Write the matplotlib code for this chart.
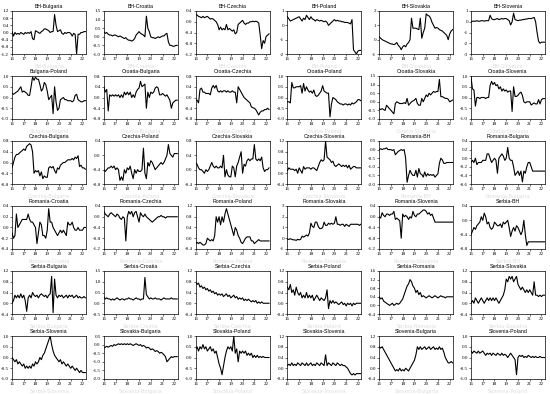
import numpy as np
import matplotlib
matplotlib.use("Agg")
import matplotlib.pyplot as plt

# time axis: 2016.0 .. 2022.25, step of 1.5 months
start_year = 2016.0
step = 1 / 8
n_points = 51

titles = [
    "BH-Bulgaria", "BH-Croatia", "BH-Czechia", "BH-Poland", "BH-Slovakia", "BH-Slovenia",
    "Bulgaria-Poland", "Croatia-Bulgaria", "Croatia-Czechia", "Croatia-Poland", "Croatia-Slovakia", "Croatia-Slovenia",
    "Czechia-Bulgaria", "Czechia-Poland", "Czechia-Slovakia", "Czechia-Slovenia", "Romania-BH", "Romania-Bulgaria",
    "Romania-Croatia", "Romania-Czechia", "Romania-Poland", "Romania-Slovakia", "Romania-Slovenia", "Serbia-BH",
    "Serbia-Bulgaria", "Serbia-Croatia", "Serbia-Czechia", "Serbia-Poland", "Serbia-Romania", "Serbia-Slovakia",
    "Serbia-Slovenia", "Slovakia-Bulgaria", "Slovakia-Poland", "Slovakia-Slovenia", "Slovenia-Bulgaria", "Slovenia-Poland",
]

bh_bulgaria = [0.05, -0.2, 0.0, -0.1, -0.05, -0.1, 0.0, -0.05, -0.1, 0.0, -0.05, 0.0, -0.05, 0.05, -0.35, -0.4,
               0.1, 0.05, 0.0, -0.05, 0.05, 0.1, 0.2, 0.2, 0.15, 0.1, 0.0, 0.05, 0.05, 1.0, 0.4, 0.05,
               0.1, 0.15, -0.05, -0.1, 0.0, -0.05, 0.0, 0.0, -0.05, -0.2, -0.05, -0.1, -1.2, -0.1, -0.1, 0.0,
               0.0, 0.05, 0.05]
bh_croatia = [0.3, 0.2, 0.25, 0.15, 0.1, 0.1, 0.05, 0.1, 0.1, 0.05, 0.0, 0.05, 0.0, -0.05, -0.1, -0.05,
              -0.15, -0.2, -0.2, -0.25, -0.2, -0.1, 0.1, 0.2, 0.3, 0.2, 0.15, 0.1, 0.0, 1.2, 0.5, 0.3,
              0.0, -0.05, -0.05, -0.1, -0.05, 0.0, -0.05, 0.0, 0.05, 0.05, 0.15, 0.2, -0.3, -0.5, -0.5, -0.55,
              -0.55, -0.5, -0.5]
bh_czechia = [0.3, 0.25, 0.2, 0.18, 0.15, 0.2, 0.15, 0.18, 0.2, 0.15, 0.1, 0.12, 0.1, 0.05, 0.0, -0.1,
              -0.3, -0.2, -0.3, -0.25, -0.3, -0.1, -0.3, -0.25, -0.3, -0.35, -0.3, -0.45, -0.4, -0.1, -0.05, 0.0,
              0.05, -0.05, -0.1, -0.05, -0.05, 0.0, 0.0, 0.02, 0.0, 0.02, 0.0, -0.05, -0.5, -1.0, -0.7, -0.8,
              -0.55, -0.5, -0.45]
bh_poland = [0.6, 0.45, 0.3, 0.35, 0.4, 0.45, 0.5, 0.55, 0.6, 0.45, 0.3, 0.5, 0.4, 0.7, 0.55, 0.4,
             0.6, 0.45, 0.4, 0.3, 0.4, 0.35, 0.3, 0.35, 0.3, 0.25, 0.3, 0.2, 0.0, 0.1, 0.2, 0.3,
             0.4, 0.3, 0.35, 0.3, 0.3, 0.25, 0.25, 0.2, 0.2, 0.2, 0.15, 0.1, 0.4, -1.7, -1.85, -2.0,
             -1.8, -1.75, -1.75]
bh_slovakia = [0.2, 0.1, 0.0, -0.05, -0.1, -0.15, -0.2, -0.25, -0.3, -0.3, -0.35, -0.3, -0.2, -0.4, -0.5, -0.7,
               -0.5, -0.4, -0.5, -0.3, -0.2, 0.0, 1.5, 0.8, 0.8, 0.8, 0.75, 0.7, 1.5, 0.1, 0.5, 0.8,
               1.8, 1.7, 1.65, 1.5, 1.2, 1.0, 0.8, 0.85, 0.8, 0.7, 0.65, 0.6, 0.5, 0.4, 0.3, 0.0,
               0.4, 0.6, 0.7]
bh_slovenia = [0.0, 0.05, 0.05, 0.05, 0.1, 0.05, 0.05, 0.1, 0.1, 0.05, 0.1, 0.1, 0.1, 0.6, 0.3, 0.2,
               0.2, 0.25, 0.3, 0.2, 0.25, 0.3, 0.25, 0.3, 0.3, 0.2, 0.1, -0.3, 0.0, 0.8, 0.2, 0.15,
               0.1, 0.15, 0.15, 0.2, 0.2, 0.25, 0.25, 0.3, 0.3, 0.3, 0.35, 0.4, 0.0, -1.0, -1.8, -2.0,
               -1.9, -1.9, -1.9]
bulgaria_poland = [0.2, 0.15, 0.2, 0.25, 0.3, 0.4, 0.5, 0.25, 0.3, 0.25, 0.2, 0.1, 0.1, 0.5, 0.95, 0.8,
                   0.95, 0.85, 0.85, 0.6, 0.3, 0.4, 0.7, 0.6, 0.3, -0.1, 0.0, 0.1, -0.75, 0.5, -0.2, -0.6,
                   -0.5, -0.1, -0.05, 0.0, -0.1, -0.1, -0.15, -0.15, -0.15, -0.2, -0.15, 0.1, 0.15, -0.1, -0.15, -0.2,
                   -0.2, -0.15, -0.15]
croatia_bulgaria = [0.4, 0.2, 0.3, -0.5, 0.1, 0.05, 0.1, 0.05, 0.1, 0.05, 0.1, 0.0, 0.1, 0.0, 0.2, 0.1,
                    0.2, 0.1, 0.2, 0.0, 0.1, 0.0, 0.2, 0.3, 0.35, 0.6, 0.4, 0.45, 0.5, -0.4, 0.2, 0.0,
                    0.2, 0.15, 0.2, 0.35, 0.4, 0.35, 0.1, 0.1, 0.15, 0.1, 0.05, 0.1, 0.0, -0.1, -0.4, -0.2,
                    -0.15, -0.1, -0.1]
croatia_czechia = [-0.1, -0.1, -0.2, 0.3, 0.35, 0.2, 0.2, 0.15, 0.15, 0.15, 0.1, 0.35, 0.45, 0.35, 0.45, 0.25,
                   0.2, 0.25, 0.2, 0.25, 0.25, 0.2, 0.25, 0.2, 0.2, 0.25, 0.2, 0.2, -0.2, 0.4, 0.3, 0.2,
                   0.1, 0.0, -0.05, -0.1, -0.15, -0.2, -0.35, -0.38, -0.4, -0.45, -0.55, -0.65, -0.55, -0.5, -0.5, -0.45,
                   -0.45, -0.4, -0.45]
croatia_poland = [-0.2, -0.2, -0.25, 0.7, 0.45, 0.45, 0.5, 0.5, 0.5, 0.55, 0.2, 0.65, 0.3, 0.5, 0.35, 0.25,
                  0.3, 0.2, 0.35, 0.1, 0.05, 0.1, 0.2, 0.3, 0.55, 0.3, 0.25, 0.2, 0.2, -0.9, -0.3, 0.0,
                  -0.05, -0.1, -0.2, -0.25, -0.3, -0.3, -0.35, -0.3, -0.3, -0.35, -0.3, -0.35, -0.25, -0.3, -0.25, -0.2,
                  -0.1, -0.1, -0.15]
croatia_slovakia = [-0.4, -0.45, -0.4, -0.45, -0.5, -0.2, -0.3, -0.4, -0.5, -0.6, -0.7, -0.1, 0.0, -0.05, -0.1, -0.1,
                    -0.1, -0.05, -0.1, 0.2, -0.2, -0.1, 0.0, 0.05, 0.1, 0.2, -0.1, -0.2, -0.2, 0.2, 0.0, 0.2,
                    0.4, 0.3, 0.5, 0.4, 0.5, 0.6, 0.55, 0.6, 0.6, 1.3, 0.3, 0.3, 0.25, 0.2, 0.2, 0.15,
                    0.0, 0.05, 0.1]
croatia_slovenia = [0.95, 0.4, 0.35, -0.4, 0.0, 0.0, -0.05, 0.0, 0.0, 0.0, -0.05, 0.0, 0.0, 0.55, 0.75, 0.6,
                    0.7, 0.55, 0.6, 0.4, 0.5, 0.3, 0.4, 0.3, 0.35, 0.25, 0.3, 0.3, -0.65, 0.5, 0.05, 0.05,
                    0.1, 0.2, 0.25, 0.1, -0.2, -0.25, -0.2, -0.2, -0.2, -0.35, -0.3, -0.25, -0.3, -0.3, -0.1, -0.3,
                    -0.1, -0.05, -0.05]
czechia_bulgaria = [-0.2, 0.0, 0.2, 0.3, 0.3, 0.35, 0.4, 0.45, 0.5, 0.45, 0.6, 0.65, 0.7, 0.65, 0.4, -0.4,
                    -0.3, -0.35, -0.3, -0.5, -0.35, -0.6, -0.5, -0.55, -0.55, -0.2, -0.15, -0.2, -0.15, -0.3, -0.4, -0.2,
                    -0.25, -0.1, -0.05, 0.0, 0.0, 0.05, 0.1, 0.1, 0.1, 0.15, 0.1, 0.2, 0.15, 0.25, -0.15, -0.1,
                    -0.2, -0.2, -0.25]
czechia_poland = [-0.4, -0.45, -0.4, -0.35, -0.35, -0.3, -0.35, -0.3, -0.4, -0.35, -0.4, -0.7, -0.6, -0.7, -0.4, -0.5,
                  -0.35, -0.4, -0.3, -0.5, -0.65, -0.4, -0.5, -0.4, -0.45, -0.45, -0.4, 0.2, -0.5, -0.65, -0.2, -0.3,
                  -0.15, -0.2, -0.3, -0.4, -0.35, -0.3, -0.25, -0.2, -0.25, -0.2, -0.1, 0.0, 0.3, 0.05, 0.0, -0.05,
                  0.05, 0.05, 0.05]
czechia_slovakia = [0.2, 0.15, 0.05, 0.0, 0.0, -0.05, -0.1, 0.0, -0.05, 0.0, 0.1, 0.2, 0.1, 0.05, 0.1, 0.05,
                    0.05, 0.1, 0.05, 0.4, -0.2, 0.0, -0.15, -0.2, -0.2, 0.1, 0.05, -0.2, 0.1, 0.2, 0.35, 0.5,
                    -0.1, 0.15, 0.1, 0.25, 0.3, 0.25, 0.3, 0.3, 0.7, 0.3, 0.25, 0.3, 0.25, 0.35, 0.05, -0.05,
                    0.0, 0.0, 0.05]
czechia_slovenia = [0.1, 0.2, 0.15, 0.15, 0.15, 0.1, 0.15, 0.0, 0.2, 0.1, 0.0, 0.25, 0.15, 0.2, 0.2, 0.2,
                    0.15, 0.2, 0.2, 0.15, 0.1, 0.25, 0.4, 0.5, 0.45, 0.5, 1.2, 0.6, 0.55, 0.5, 0.4, 0.45,
                    0.3, 0.25, 0.3, 0.35, 0.3, 0.25, 0.3, 0.25, 0.3, 0.2, 0.3, 0.15, 0.2, 0.25, 0.25, 0.2,
                    0.2, 0.2, 0.2]
romania_bh = [0.0, 0.05, 0.0, 0.05, 0.05, 0.1, 0.0, 0.0, 0.0, -0.05, 0.0, -0.3, -0.2, -0.1, -0.05, 0.0,
              -0.05, 0.0, -0.5, -1.9, -1.5, -1.2, -1.4, -1.5, -1.5, -1.2, -1.6, -1.1, -1.4, -1.45, -1.6, -1.3,
              -1.55, -1.4, -1.5, -1.45, -1.5, -1.45, -1.6, -1.5, -1.4, -0.8, -0.5, -0.6, -0.8, -0.8, -0.75, -0.75,
              -0.75, -0.75, -0.75]
romania_bulgaria = [-0.1, -0.05, -0.1, 0.0, -0.15, -0.1, -0.1, -0.1, -0.05, -0.05, -0.05, 0.1, 0.1, 0.0, -0.1, -0.05,
                    0.0, -0.05, -0.35, 0.0, 0.05, 0.1, 0.05, -0.05, 0.0, 0.25, 0.0, -0.05, -0.05, -0.2, -0.4, -0.35,
                    -0.3, -0.4, -0.3, -0.55, -0.3, -0.35, -0.2, -0.1, -0.1, -0.2, -0.3, -0.3, -0.3, -0.3, -0.3, -0.3,
                    -0.3, -0.3, -0.3]
romania_croatia = [-0.1, -0.2, -0.15, 0.25, 0.0, 0.05, 0.1, 0.15, 0.15, 0.15, 0.15, 0.25, 0.15, 0.1, 0.1, 0.05,
                   0.0, -0.3, -0.1, 0.1, 0.05, -0.15, -0.15, -0.2, -0.05, 0.35, 0.1, 0.1, 0.0, -0.05, -0.1, -0.15,
                   -0.1, -0.05, -0.1, -0.05, -0.1, -0.15, 0.1, 0.05, 0.05, 0.1, 0.0, -0.05, -0.05, 0.0, -0.05, -0.05,
                   -0.05, 0.0, 0.0]
romania_czechia = [0.2, 0.1, 0.05, 0.0, 0.1, 0.15, 0.1, 0.05, 0.0, 0.1, 0.05, -0.05, -0.1, 0.0, -0.05, -0.9,
                   0.0, 0.2, 0.1, 0.2, 0.0, 0.15, 0.2, 0.0, -0.2, 0.15, 0.05, 0.0, 0.1, 0.0, -0.05, -0.1,
                   -0.15, -0.2, -0.15, -0.1, -0.05, 0.0, 0.0, 0.05, 0.0, 0.0, -0.05, 0.0, 0.0, 0.0, 0.0, 0.0,
                   0.0, 0.0, 0.0]
romania_poland = [-0.2, -0.15, -0.2, -0.15, -0.2, -0.25, -0.25, -0.2, 0.0, -0.05, -0.1, -0.05, -0.1, 0.1, 0.8, 0.6,
                  0.8, 0.5, 0.8, 0.6, 0.9, 1.1, 0.9, 0.7, 0.5, 0.3, 0.1, 0.4, 0.3, 0.1, 0.0, -0.15,
                  -0.2, -0.1, 0.0, 0.05, 0.05, 0.05, -0.1, -0.1, -0.2, -0.15, -0.1, -0.05, -0.1, -0.1, -0.1, -0.1,
                  -0.1, -0.1, -0.1]
romania_slovakia = [-0.1, -0.1, -0.05, -0.1, -0.15, -0.15, -0.2, -0.1, -0.15, -0.1, 0.2, 0.1, 0.2, 0.3, 0.2, 0.5,
                    1.4, 1.1, 1.0, 1.5, 1.5, 1.1, 0.9, 0.9, 1.0, 1.5, 1.2, 1.2, 1.4, 1.3, 1.4, 1.3,
                    1.4, 2.0, 1.3, 1.3, 1.2, 1.3, 1.3, 1.1, 1.3, 1.2, 1.1, 1.3, 1.3, 1.3, 1.3, 1.3,
                    1.3, 1.2, 1.3]
romania_slovenia = [0.0, -0.05, 0.15, 0.05, 0.0, 0.1, 0.1, 0.05, 0.1, 0.1, 0.2, -0.1, -0.05, -0.1, -0.15, -0.8,
                    0.1, 0.0, 0.05, 0.0, -0.1, 0.0, -0.05, 0.2, 0.05, 0.0, 0.1, 0.1, 0.15, 0.2, 0.25, 0.25,
                    0.2, 0.1, 0.15, 0.05, 0.1, -0.05, -0.2, -0.2, -0.2, -0.2, -0.2, -0.2, -0.2, -0.2, -0.2, -0.2,
                    -0.2, -0.2, -0.2]
serbia_bh = [-0.4, -0.3, -0.2, -0.25, -0.15, -0.1, -0.05, 0.1, 0.0, 0.2, 0.1, -0.1, -0.05, -0.2, -0.25, -0.2,
             -0.05, -0.1, -0.15, -0.15, -0.1, -0.2, -0.05, -0.1, -0.05, 0.0, -0.2, -0.45, -0.3, -0.2, -0.3, -0.15,
             -0.2, -0.3, -0.4, -0.3, 0.0, -0.4, -0.7, -0.6, -0.6, -0.6, -0.6, -0.6, -0.6, -0.6, -0.6, -0.6,
             -0.6, -0.6, -0.6]
serbia_bulgaria = [0.0, 0.1, 0.3, 0.2, 0.3, 0.2, 0.35, 0.2, 0.3, 0.1, -0.3, 0.2, 0.3, 0.2, 0.4, 0.3,
                   0.25, 0.3, 0.2, 0.3, 0.35, 0.3, 0.25, 0.3, 0.2, 0.3, 0.35, 1.0, -0.35, 0.9, 0.3, 0.2,
                   0.3, 0.25, 0.3, 0.2, 0.25, 0.3, 0.2, 0.3, 0.25, 0.3, 0.2, 0.25, 0.3, 0.2, 0.25, 0.2,
                   0.2, 0.25, 0.2]
serbia_croatia = [0.3, 0.2, 0.25, 0.2, 0.2, 0.15, 0.2, 0.15, 0.2, 0.25, 0.2, 0.15, 0.2, 0.2, 0.15, 0.2,
                  0.2, 0.25, 0.2, 0.2, 0.15, 0.2, 0.25, 0.2, 0.2, 0.15, 0.2, 0.2, 1.2, 0.4, 0.3, 0.2,
                  0.25, 0.2, 0.2, 0.25, 0.2, 0.2, 0.2, 0.15, 0.2, 0.25, 0.2, 0.2, 0.2, 0.2, 0.25, 0.2,
                  0.2, 0.2, 0.2]
serbia_czechia = [0.8, 0.7, 0.75, 0.6, 0.65, 0.55, 0.6, 0.5, 0.55, 0.45, 0.5, 0.4, 0.45, 0.35, 0.4, 0.3,
                  0.35, 0.3, 0.35, 0.25, 0.3, 0.35, 0.25, 0.3, 0.2, 0.25, 0.3, 0.2, 0.25, 0.15, 0.2, 0.15,
                  0.2, 0.1, 0.15, 0.1, 0.15, 0.1, 0.05, 0.1, 0.05, 0.1, 0.0, 0.05, 0.0, 0.05, 0.0, 0.0,
                  0.0, 0.0, 0.0]
serbia_poland = [0.6, 0.5, 0.7, 0.4, 0.5, 0.3, 0.6, 0.4, 0.3, 0.4, 0.2, 0.3, 0.2, 0.4, 0.2, 0.3,
                 0.2, 0.3, 0.1, 0.2, 0.3, 0.2, 0.1, 0.2, 0.15, 0.1, 0.2, 0.5, -0.2, 0.1, 0.0, 0.1,
                 0.0, 0.05, 0.0, -0.05, 0.0, 0.05, -0.05, 0.0, -0.1, 0.0, -0.05, 0.0, -0.1, 0.0, -0.05, 0.0,
                 0.0, 0.0, 0.0]
serbia_romania = [0.4, 0.3, 0.35, 0.2, 0.15, 0.1, 0.05, 0.0, 0.05, 0.1, 0.0, 0.05, 0.1, 0.05, 0.1, 0.2,
                  0.3, 0.5, 0.7, 0.9, 1.0, 1.2, 1.1, 0.9, 0.8, 0.6, 0.7, 0.5, 0.6, 0.4, 0.45, 0.4,
                  0.35, 0.4, 0.45, 0.4, 0.35, 0.4, 0.45, 0.4, 0.35, 0.4, 0.45, 0.4, 0.4, 0.35, 0.4, 0.4,
                  0.4, 0.4, 0.4]
serbia_slovakia = [0.0, 0.1, 0.0, 0.2, 0.1, 0.0, 0.1, 0.2, 0.1, 0.0, 0.1, 0.2, 0.1, 0.2, 0.1, 0.2,
                   0.1, 0.2, 0.1, 0.0, 0.1, 0.2, 0.3, 0.5, 0.9, 0.8, 1.0, 0.9, 1.0, 0.8, 0.9, 1.0,
                   0.7, 0.6, 0.5, 0.6, 0.5, 0.4, 0.5, 0.4, 0.5, 0.4, 0.3, 0.8, 0.3, 0.3, 0.25, 0.3,
                   0.25, 0.3, 0.3]
serbia_slovenia = [0.0, -0.1, -0.2, -0.1, -0.3, -0.2, -0.3, -0.4, -0.3, -0.5, -0.4, -0.5, -0.4, -0.5, -0.3, -0.4,
                   -0.2, -0.3, -0.2, 0.0, -0.1, 0.1, 0.2, 0.4, 0.6, 0.8, 1.0, 0.6, 0.3, 0.1, 0.0, -0.1,
                   -0.2, -0.1, -0.3, -0.2, -0.3, -0.4, -0.3, -0.4, -0.5, -0.4, -0.5, -0.6, -0.5, -0.6, -0.7, -0.6,
                   -0.7, -0.7, -0.7]
slovakia_bulgaria = [-0.2, -0.15, -0.1, -0.15, -0.1, -0.05, -0.1, 0.0, -0.05, 0.0, 0.05, 0.0, 0.05, 0.0, 0.05, 0.0,
                     0.05, 0.0, 0.05, 0.0, -0.05, 0.0, 0.05, 0.0, -0.05, 0.0, -0.1, -0.05, -0.1, -0.2, -0.15, -0.2,
                     -0.3, -0.25, -0.3, -0.4, -0.35, -0.4, -0.5, -0.45, -0.5, -0.6, -0.7, -1.0, -0.9, -0.8, -0.7, -0.75,
                     -0.7, -0.7, -0.7]
slovakia_poland = [0.4, 0.5, 0.3, 0.5, 0.4, 0.6, 0.4, 0.5, 0.3, 0.4, 0.5, 0.3, 0.4, 0.2, 0.3, 0.0,
                   -0.3, -0.5, -0.8, -0.4, 0.0, 0.3, 0.5, 0.4, 0.5, 0.3, 1.0, 0.2, 0.4, -0.2, 0.3, 0.2,
                   0.3, 0.2, 0.3, 0.1, 0.2, 0.1, 0.2, 0.0, 0.1, 0.0, 0.1, 0.0, 0.05, 0.0, 0.05, 0.0,
                   0.0, 0.0, 0.0]
slovakia_slovenia = [0.1, 0.15, 0.1, 0.2, 0.1, 0.15, 0.1, 0.2, 0.15, 0.1, 0.2, 0.15, 0.1, 0.2, 0.1, 0.15,
                     0.2, 0.1, 0.15, 0.1, 0.2, 0.15, 0.1, 0.2, 0.15, 0.1, 0.5, 0.1, 0.2, 0.15, 0.1, 0.2,
                     0.15, 0.1, 0.2, 0.15, 0.1, 0.15, 0.1, 0.1, 0.05, 0.0, -0.1, -0.2, -0.25, -0.2, -0.25, -0.2,
                     -0.2, -0.2, -0.2]
slovenia_bulgaria = [0.8, 0.75, 0.8, 0.7, 0.6, 0.5, 0.4, 0.3, 0.2, 0.1, 0.0, -0.1, -0.05, -0.1, 0.0, -0.1,
                     -0.05, -0.1, 0.0, -0.05, -0.1, 0.0, 0.1, 0.2, 0.3, 0.5, 0.8, 0.7, 0.8, 0.7, 0.75, 0.8,
                     0.7, 0.75, 0.8, 0.7, 0.75, 0.8, 0.7, 0.75, 0.7, 0.8, 0.7, 0.75, 0.6, 0.4, 0.3, 0.2,
                     0.2, 0.25, 0.2]
slovenia_poland = [0.3, 0.2, 0.3, 0.25, 0.2, 0.3, 0.2, 0.25, 0.3, 0.2, 0.1, 0.2, 0.15, 0.2, 0.1, 0.2,
                   0.15, 0.1, 0.2, 0.15, 0.1, 0.2, 0.1, 0.15, 0.1, 0.0, 0.1, 0.2, 0.1, 0.0, -0.1, -0.8,
                   0.0, 0.1, 0.05, 0.1, 0.0, 0.05, 0.0, 0.1, 0.05, 0.0, 0.05, 0.0, 0.05, 0.0, 0.0, 0.05,
                   0.0, 0.0, 0.0]

series = [bh_bulgaria, bh_croatia, bh_czechia, bh_poland, bh_slovakia, bh_slovenia,
          bulgaria_poland, croatia_bulgaria, croatia_czechia, croatia_poland, croatia_slovakia, croatia_slovenia,
          czechia_bulgaria, czechia_poland, czechia_slovakia, czechia_slovenia, romania_bh, romania_bulgaria,
          romania_croatia, romania_czechia, romania_poland, romania_slovakia, romania_slovenia, serbia_bh,
          serbia_bulgaria, serbia_croatia, serbia_czechia, serbia_poland, serbia_romania, serbia_slovakia,
          serbia_slovenia, slovakia_bulgaria, slovakia_poland, slovakia_slovenia, slovenia_bulgaria, slovenia_poland]

# y-axis limits and tick step per panel
y_limits = [(-1.2, 1.2, 0.4), (-1.0, 1.5, 0.5), (-1.2, 0.4, 0.4), (-2, 1, 1), (-1, 2, 1), (-3, 1, 1),
            (-1.0, 1.0, 0.5), (-0.8, 0.8, 0.4), (-0.8, 0.8, 0.4), (-1.0, 1.0, 0.5), (-1.0, 1.5, 0.5), (-1.0, 1.0, 0.5),
            (-0.8, 0.8, 0.4), (-0.8, 0.4, 0.4), (-0.4, 0.8, 0.4), (-0.4, 1.2, 0.4), (-2.0, 0.5, 0.5), (-0.6, 0.4, 0.2),
            (-0.4, 0.4, 0.2), (-1.2, 0.4, 0.4), (-0.4, 1.2, 0.4), (-1, 3, 1), (-1.2, 0.4, 0.4), (-0.8, 0.4, 0.4),
            (-0.4, 1.2, 0.4), (-0.5, 1.5, 0.5), (-0.4, 1.2, 0.4), (-0.4, 1.2, 0.4), (-0.4, 1.6, 0.4), (-0.4, 1.2, 0.4),
            (-1.0, 1.0, 0.5), (-2.0, 0.5, 0.5), (-1.0, 1.0, 0.5), (-0.4, 1.2, 0.4), (-0.4, 1.2, 0.4), (-1.0, 1.0, 0.5)]
int_ticks = {3, 4, 5, 21}

year_ticks = [2016, 2017, 2018, 2019, 2020, 2021, 2022]
year_labels = ["16", "17", "18", "19", "20", "21", "22"]

W, H = 550, 394
fig = plt.figure(figsize=(W / 100, H / 100), dpi=100)
t = start_year + step * np.arange(n_points)

left0, col_step, ax_w = 12, 91.8, 74
top0, row_step, ax_h = 11, 65, 43

for k, (name, vals) in enumerate(zip(titles, series)):
    r, c = divmod(k, 6)
    left = left0 + c * col_step
    top = top0 + r * row_step
    ax = fig.add_axes([left / W, 1 - (top + ax_h) / H, ax_w / W, ax_h / H])
    ax.plot(t, vals, color="black", lw=0.8)
    lo, hi, st = y_limits[k]
    ax.set_ylim(lo, hi)
    ticks = np.round(np.arange(lo, hi + st / 2, st), 3) + 0.0
    ax.set_yticks(ticks)
    if k in int_ticks:
        ax.set_yticklabels([f"{v:.0f}".replace("-0", "0") if abs(v) < 1e-9 else f"{v:.0f}" for v in ticks])
    else:
        ax.set_yticklabels(["0.0" if abs(v) < 1e-9 else f"{v:.1f}" for v in ticks])
    ax.set_xlim(2016, 2022.3)
    ax.set_xticks(year_ticks)
    ax.set_xticklabels(year_labels)
    ax.tick_params(labelsize=3.6, length=1.2, width=0.4, pad=1)
    for lab in ax.get_xticklabels() + ax.get_yticklabels():
        lab.set_fontfamily("Liberation Serif")
    for s in ax.spines.values():
        s.set_linewidth(0.5)
    ax.set_title(name, fontsize=3.8, family="Liberation Sans", pad=2.5)
    ax.set_xlabel(name, fontsize=3.6, color="#dddddd", labelpad=2)

fig.savefig("out.png", dpi=100)
